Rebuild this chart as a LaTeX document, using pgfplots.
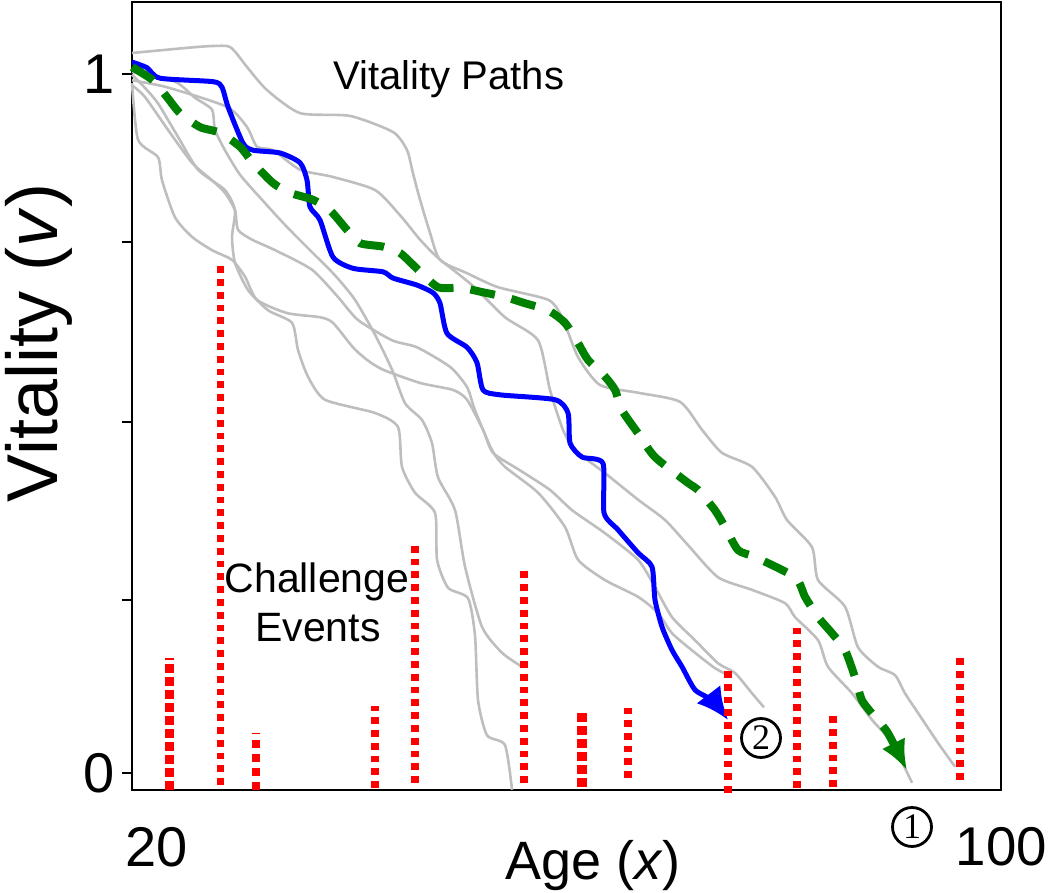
\documentclass[border=0pt]{standalone}
\usepackage{pgfplots}
\pgfplotsset{compat=1.18}
\usepackage{fontspec}
\setmainfont{Liberation Sans}
\newfontfamily\serifnum{Liberation Serif}
\usetikzlibrary{arrows.meta}
\definecolor{vgray}{RGB}{190,190,190}
\definecolor{vgreen}{RGB}{0,128,0}
\definecolor{vred}{RGB}{255,0,0}
\begin{document}
\begin{tikzpicture}
\path[use as bounding box] (0,0) rectangle (525pt,446.5pt);
\begin{axis}[
  at={(66pt,51.5pt)}, anchor=south west,
  scale only axis, width=434.5pt, height=394pt,
  xmin=20, xmax=102.27, ymin=-0.0243, ymax=1.103,
  clip=false,
  axis line style={line width=1pt},
  xtick=\empty,
  ytick={0,0.2475,0.502,0.76,1},
  yticklabels={0,,,,1},
  ytick pos=left, tick align=outside,
  major tick length=5pt,
  every tick/.style={black, line width=0.9pt},
  yticklabel style={font=\fontsize{28}{28}\selectfont},
  /pgf/number format/assume math mode=true,
  gpath/.style={vgray, line width=1.3pt, smooth, tension=0.4, line join=round, no marks},
  evthin/.style={vred, line width=3.6pt, dash pattern=on 3.4pt off 3.0pt, no marks},
  evmid/.style={vred, line width=4pt, dash pattern=on 3.8pt off 3.2pt, no marks},
  evthick/.style={vred, line width=4.6pt, dash pattern=on 4.3pt off 2.2pt, no marks},
]
% gray vitality paths
\addplot[gpath] coordinates {(20.00,1.030) (26.44,1.039) (28.99,1.040) (29.75,1.032) (30.89,1.010) (32.78,0.977) (35.91,0.944) (40.64,0.940) (44.71,0.917) (46.04,0.891) (46.60,0.858) (47.27,0.820) (48.21,0.773) (49.16,0.734) (51.72,0.715) (54.65,0.695) (59.39,0.677) (60.71,0.652) (62.23,0.595) (64.31,0.555) (67.91,0.544) (71.88,0.531) (73.96,0.491) (75.86,0.458) (78.70,0.438) (80.88,0.395) (82.01,0.362) (84.38,0.323) (84.95,0.276) (87.50,0.238) (88.73,0.180) (90.63,0.152) (92.24,0.140) (93.18,0.114) (94.41,0.086) (96.31,0.043) (97.92,0.009)};
\addplot[gpath] coordinates {(20.00,0.991) (23.31,0.981) (28.99,0.953) (30.89,0.924) (31.83,0.896) (33.35,0.891) (35.91,0.863) (38.94,0.853) (43.01,0.834) (45.37,0.798) (47.27,0.763) (48.97,0.737) (52.19,0.698) (55.31,0.652) (58.44,0.619) (59.57,0.548) (60.80,0.491) (61.94,0.462) (64.78,0.429) (67.91,0.391) (70.46,0.362) (72.64,0.326) (75.48,0.280) (78.70,0.262) (81.82,0.243) (82.77,0.223) (84.95,0.190) (85.89,0.152) (88.17,0.114) (90.06,0.076) (91.95,0.043) (93.85,-0.014)};
\addplot[gpath] coordinates {(20.00,0.987) (20.57,0.906) (22.46,0.881) (22.84,0.848) (24.07,0.795) (25.68,0.767) (27.57,0.748) (29.47,0.734) (30.70,0.710) (31.83,0.677) (34.67,0.658) (37.80,0.652) (39.03,0.644) (40.92,0.609) (42.25,0.591) (43.76,0.577) (47.27,0.558) (50.39,0.548) (51.72,0.534) (53.23,0.491) (54.18,0.458) (56.73,0.433) (59.57,0.405) (61.66,0.376) (64.78,0.343) (67.91,0.305) (69.51,0.266) (71.12,0.223) (73.30,0.190) (75.48,0.157) (77.09,0.143) (78.70,0.114) (79.83,0.094)};
\addplot[gpath] coordinates {(20.00,0.984) (21.23,0.967) (23.41,0.920) (25.68,0.873) (27.57,0.848) (28.80,0.830) (29.75,0.805) (30.04,0.777) (31.36,0.763) (33.54,0.748) (37.04,0.720) (39.50,0.681) (41.40,0.648) (44.62,0.619) (46.98,0.609) (50.11,0.581) (51.72,0.552) (52.47,0.519) (54.08,0.462) (55.31,0.438) (58.44,0.401) (60.99,0.352) (62.23,0.305) (64.78,0.276) (67.91,0.252) (69.80,0.229) (71.12,0.200) (73.30,0.172) (75.19,0.150) (76.43,0.140)};
\addplot[gpath] coordinates {(20.00,0.999) (21.23,0.980) (22.46,0.958) (24.36,0.910) (26.25,0.863) (28.80,0.834) (29.75,0.805) (29.47,0.767) (29.75,0.730) (30.98,0.691) (32.88,0.662) (35.15,0.644) (35.72,0.605) (36.66,0.567) (38.27,0.534) (43.01,0.515) (45.18,0.495) (45.56,0.438) (46.79,0.401) (48.69,0.372) (48.88,0.305) (49.92,0.265) (51.81,0.250) (52.47,0.197) (52.76,0.104) (53.61,0.054) (55.31,0.040) (55.98,-0.024)};
\addplot[gpath] coordinates {(20.00,1.003) (24.07,0.989) (25.96,0.966) (27.57,0.949) (27.86,0.920) (28.80,0.891) (30.22,0.856) (32.31,0.820) (34.49,0.784) (36.85,0.748) (39.22,0.712) (41.11,0.677) (43.01,0.627) (44.62,0.577) (45.85,0.529) (47.46,0.505) (48.40,0.472) (48.97,0.423) (50.58,0.376) (51.53,0.295) (53.14,0.209) (55.03,0.172) (56.92,0.152)};
% blue path
\addplot[blue, line width=2.5pt, smooth, tension=0.4, line join=round, no marks, -{Latex[length=16pt,width=15pt]}] coordinates {(20.00,1.017) (21.42,1.009) (22.65,0.994) (27.67,0.989) (28.52,0.981) (29.09,0.953) (30.51,0.901) (31.46,0.891) (34.01,0.887) (35.91,0.873) (36.57,0.848) (36.85,0.810) (37.80,0.791) (39.03,0.738) (40.92,0.722) (43.76,0.717) (44.71,0.708) (46.98,0.698) (48.50,0.687) (49.16,0.672) (49.82,0.629) (51.72,0.609) (52.66,0.587) (53.23,0.548) (54.84,0.541) (60.05,0.534) (61.28,0.515) (61.47,0.472) (62.60,0.452) (64.59,0.443) (64.69,0.372) (66.01,0.348) (67.91,0.315) (69.23,0.295) (69.51,0.248) (70.18,0.209) (71.12,0.176) (72.07,0.152) (73.30,0.119) (74.91,0.104) (76.43,0.076)};
% green dashed path
\addplot[vgreen, line width=4pt, dash pattern=on 12.5pt off 8.5pt, smooth, tension=0.4, no marks, -{Latex[length=15pt,width=13pt]}] coordinates {(20.00,1.010) (21.99,0.991) (23.31,0.967) (24.54,0.944) (26.44,0.924) (28.33,0.916) (30.22,0.896) (31.46,0.873) (33.35,0.844) (34.96,0.830) (37.14,0.820) (38.75,0.805) (40.35,0.777) (41.59,0.758) (43.76,0.753) (45.37,0.744) (47.08,0.720) (48.97,0.695) (51.24,0.694) (53.14,0.688) (55.31,0.681) (57.21,0.672) (59.39,0.662) (60.99,0.644) (62.23,0.615) (63.17,0.591) (64.78,0.567) (65.73,0.548) (66.39,0.519) (67.91,0.486) (69.51,0.452) (72.64,0.415) (73.59,0.405) (75.19,0.376) (76.14,0.352) (77.37,0.319) (78.98,0.309) (82.77,0.280) (83.72,0.252) (84.95,0.223) (86.27,0.200) (87.50,0.176) (88.45,0.137) (89.11,0.104) (90.34,0.080) (91.57,0.057) (93.37,0.004)};
% challenge events
\addplot[evthick] coordinates {(23.53,-0.0243) (23.53,0.1645)};
\addplot[evthin] coordinates {(28.40,-0.0172) (28.40,0.731)};
\addplot[evmid] coordinates {(31.74,-0.0243) (31.74,0.0572)};
\addplot[evthin] coordinates {(43.01,-0.0215) (43.01,0.0959)};
\addplot[evthin] coordinates {(46.79,-0.0143) (46.79,0.3305)};
\addplot[evthin] coordinates {(57.11,-0.0143) (57.11,0.2904)};
\addplot[evthick] coordinates {(62.60,-0.0200) (62.60,0.0858)};
\addplot[evthin] coordinates {(66.96,-0.0072) (66.96,0.0930)};
\addplot[evthin] coordinates {(76.43,-0.0286) (76.43,0.1459)};
\addplot[evthin] coordinates {(82.96,-0.0215) (82.96,0.2117)};
\addplot[evthin] coordinates {(86.37,-0.0200) (86.37,0.0830)};
\addplot[evthin] coordinates {(98.39,-0.0100) (98.39,0.1645)};
\end{axis}
\node[anchor=base, font=\fontsize{20}{24}\selectfont] at (224.5pt,401.5pt) {Vitality Paths};
\node[anchor=base, font=\fontsize{20.5}{24}\selectfont] at (158.5pt,150pt) {Challenge};
\node[anchor=base, font=\fontsize{20.5}{24}\selectfont] at (159pt,125.5pt) {Events};
\node[anchor=base, font=\fontsize{28}{28}\selectfont] at (78.25pt,13pt) {20};
\node[anchor=base, font=\fontsize{27.3}{28}\selectfont] at (500.75pt,13.5pt) {100};
\node[anchor=base, font=\fontsize{27}{28}\selectfont] at (296.5pt,6.5pt) {Age (\textit{x})};
\node[rotate=90, anchor=base, font=\fontsize{36}{36}\selectfont] at (28.5pt,275pt) {Vitality (\textit{v})};
\node[draw, circle, line width=1.4pt, minimum size=19.5pt, inner sep=0pt, font=\serifnum\fontsize{18}{18}\selectfont] at (456pt,33pt) {1};
\node[draw, circle, line width=1.4pt, minimum size=19.5pt, inner sep=0pt, font=\serifnum\fontsize{18}{18}\selectfont] at (380.5pt,77.5pt) {2};
\end{tikzpicture}
\end{document}
